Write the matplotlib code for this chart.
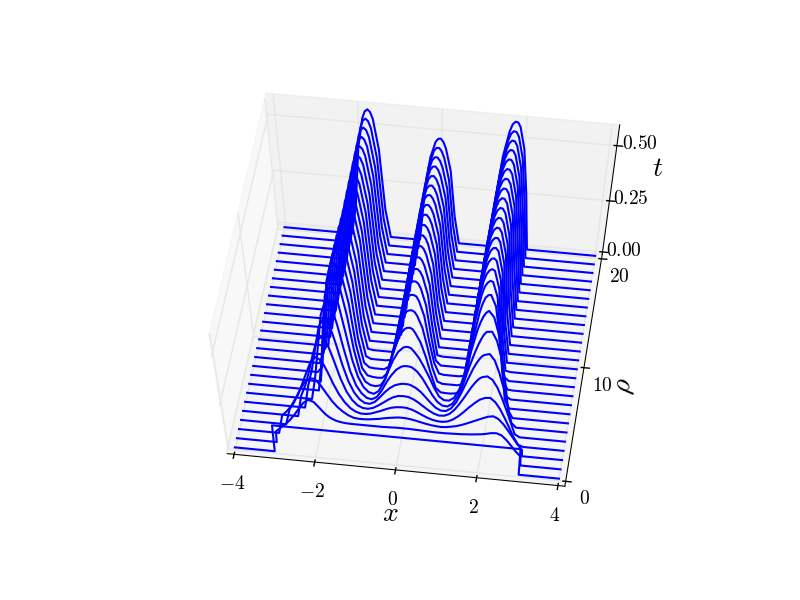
import numpy as np
import matplotlib
matplotlib.use("Agg")
import matplotlib.pyplot as plt
from mpl_toolkits.mplot3d import Axes3D

plt.style.use("classic")
plt.rcParams["mathtext.fontset"] = "cm"

x = [-3, -2.875, -2.75, -2.625, -2.5, -2.375, -2.25, -2.125, -2, -1.875, -1.75, -1.625, -1.5, -1.375,
     -1.25, -1.125, -1, -0.875, -0.75, -0.625, -0.5, -0.375, -0.25, -0.125, 0, 0.125, 0.25, 0.375,
     0.5, 0.625, 0.75, 0.875, 1, 1.125, 1.25, 1.375, 1.5, 1.625, 1.75, 1.875, 2, 2.125,
     2.25, 2.375, 2.5, 2.625, 2.75, 2.875, 3]

rho = [0, 0.8, 1.6, 2.4, 3.2, 4, 4.8, 5.6, 6.4, 7.2, 8, 8.8, 9.6, 10.4, 11.2, 12, 12.8, 13.6, 14.4,
       15.2, 16, 16.8, 17.6, 18.4, 19.2, 20]

# t values, in thousandths, one row per rho
t_milli = [
    [145, 145, 145, 145, 145, 145, 145, 145, 145, 145, 145, 145, 145, 145, 145, 145, 145, 145, 145, 145, 145, 145, 145, 145, 145, 145, 145, 145, 145, 145, 145, 145, 145, 145, 145, 145, 145, 145, 145, 145, 145, 145, 145, 145, 145, 145, 145, 145, 145],
    [60, 83, 104, 130, 162, 198, 232, 250, 241, 213, 184, 164, 152, 146, 143, 142, 142, 142, 142, 142, 142, 142, 143, 144, 145, 145, 145, 144, 143, 142, 141, 140, 140, 140, 141, 142, 143, 145, 147, 150, 153, 158, 165, 167, 158, 135, 105, 75, 50],
    [0, 100, 125, 157, 200, 247, 288, 312, 313, 284, 244, 205, 175, 153, 136, 125, 122, 122, 124, 128, 132, 138, 143, 147, 150, 150, 147, 142, 136, 130, 125, 122, 120, 122, 127, 133, 142, 153, 165, 177, 189, 200, 205, 193, 168, 135, 100, 65, 35],
    [0, 0, 85, 125, 172, 230, 292, 350, 375, 360, 308, 245, 192, 153, 125, 108, 100, 100, 105, 115, 125, 137, 147, 153, 155, 154, 148, 137, 124, 112, 103, 98, 97, 102, 115, 135, 160, 188, 213, 235, 247, 250, 230, 195, 150, 100, 50, 10, 0],
    [0, 0, 0, 0, 115, 172, 250, 340, 414, 430, 388, 309, 225, 160, 118, 92, 80, 78, 85, 100, 118, 137, 153, 163, 165, 163, 153, 137, 118, 100, 86, 78, 80, 92, 118, 155, 198, 243, 280, 303, 310, 295, 258, 205, 145, 80, 15, 0, 0],
    [0, 0, 0, 0, 0, 120, 208, 322, 432, 473, 442, 354, 250, 166, 109, 75, 57, 55, 68, 95, 125, 150, 168, 177, 180, 178, 166, 147, 120, 92, 68, 55, 55, 72, 108, 165, 230, 292, 340, 368, 375, 345, 285, 210, 120, 25, 0, 0, 0],
    [0, 0, 0, 0, 0, 0, 120, 280, 440, 510, 490, 400, 280, 170, 98, 58, 35, 30, 45, 82, 130, 170, 202, 220, 225, 221, 202, 170, 128, 84, 50, 32, 30, 48, 92, 165, 250, 330, 395, 435, 438, 395, 315, 200, 40, 0, 0, 0, 0],
    [0, 0, 0, 0, 0, 0, 0, 165, 395, 515, 527, 450, 320, 185, 95, 42, 17, 10, 28, 75, 140, 200, 245, 270, 275, 257, 225, 180, 130, 75, 30, 12, 12, 30, 80, 175, 285, 390, 460, 490, 462, 385, 255, 45, 0, 0, 0, 0, 0],
    [0, 0, 0, 0, 0, 0, 0, 190, 440, 540, 540, 480, 355, 185, 70, 22, 6, 3, 10, 48, 135, 215, 287, 318, 325, 300, 255, 185, 100, 25, 3, 1, 1, 5, 20, 115, 295, 430, 505, 520, 468, 325, 150, 15, 0, 0, 0, 0, 0],
    [0, 0, 0, 0, 0, 0, 30, 235, 465, 552, 548, 490, 368, 165, 45, 8, 2, 0, 2, 30, 125, 230, 315, 358, 365, 340, 282, 185, 80, 10, 0, 0, 0, 0, 8, 125, 340, 470, 530, 536, 465, 235, 55, 3, 0, 0, 0, 0, 0],
    [0, 0, 0, 0, 0, 0, 60, 240, 465, 553, 555, 500, 375, 150, 25, 3, 0, 0, 0, 18, 115, 238, 337, 387, 394, 366, 295, 168, 60, 5, 0, 0, 0, 0, 5, 145, 365, 490, 543, 543, 460, 195, 20, 0, 0, 0, 0, 0, 0],
    [0, 0, 0, 0, 0, 0, 40, 215, 455, 552, 560, 508, 380, 140, 12, 0, 0, 0, 0, 5, 85, 236, 347, 405, 414, 382, 303, 155, 25, 0, 0, 0, 0, 0, 0, 160, 380, 500, 552, 545, 455, 175, 5, 0, 0, 0, 0, 0, 0],
    [0, 0, 0, 0, 0, 0, 0, 190, 445, 550, 564, 515, 385, 130, 5, 0, 0, 0, 0, 0, 60, 234, 356, 418, 429, 394, 310, 142, 5, 0, 0, 0, 0, 0, 0, 175, 395, 508, 558, 546, 450, 160, 0, 0, 0, 0, 0, 0, 0],
    [0, 0, 0, 0, 0, 0, 0, 170, 430, 545, 567, 520, 390, 125, 0, 0, 0, 0, 0, 0, 30, 232, 362, 428, 440, 402, 315, 135, 0, 0, 0, 0, 0, 0, 0, 190, 405, 515, 561, 545, 447, 150, 0, 0, 0, 0, 0, 0, 0],
    [0, 0, 0, 0, 0, 0, 0, 150, 415, 538, 570, 528, 398, 128, 0, 0, 0, 0, 0, 0, 0, 232, 368, 436, 449, 410, 320, 128, 0, 0, 0, 0, 0, 0, 0, 203, 416, 523, 565, 544, 447, 160, 0, 0, 0, 0, 0, 0, 0],
    [0, 0, 0, 0, 0, 0, 0, 130, 404, 533, 571, 533, 404, 130, 0, 0, 0, 0, 0, 0, 0, 234, 373, 442, 456, 416, 324, 125, 0, 0, 0, 0, 0, 0, 0, 204, 417, 525, 567, 546, 450, 172, 0, 0, 0, 0, 0, 0, 0],
    [0, 0, 0, 0, 0, 0, 0, 130, 404, 534, 572, 534, 404, 130, 0, 0, 0, 0, 0, 0, 0, 236, 378, 447, 461, 421, 328, 124, 0, 0, 0, 0, 0, 0, 0, 204, 419, 527, 569, 548, 452, 185, 0, 0, 0, 0, 0, 0, 0],
    [0, 0, 0, 0, 0, 0, 0, 131, 405, 535, 573, 535, 405, 131, 0, 0, 0, 0, 0, 0, 0, 239, 382, 452, 466, 425, 332, 125, 0, 0, 0, 0, 0, 0, 0, 205, 420, 529, 571, 550, 455, 198, 0, 0, 0, 0, 0, 0, 0],
    [0, 0, 0, 0, 0, 0, 0, 131, 406, 536, 574, 536, 406, 131, 0, 0, 0, 0, 0, 0, 0, 240, 384, 454, 469, 428, 334, 126, 0, 0, 0, 0, 0, 0, 0, 206, 422, 531, 573, 552, 457, 210, 0, 0, 0, 0, 0, 0, 0],
    [0, 0, 0, 0, 0, 0, 0, 131, 407, 536, 575, 536, 407, 131, 0, 0, 0, 0, 0, 0, 0, 242, 387, 457, 472, 431, 336, 127, 0, 0, 0, 0, 0, 0, 0, 207, 423, 533, 575, 554, 459, 222, 0, 0, 0, 0, 0, 0, 0],
    [0, 0, 0, 0, 0, 0, 0, 131, 407, 537, 576, 537, 407, 131, 0, 0, 0, 0, 0, 0, 0, 243, 388, 459, 474, 433, 337, 127, 0, 0, 0, 0, 0, 0, 0, 207, 425, 535, 577, 556, 461, 232, 0, 0, 0, 0, 0, 0, 0],
    [0, 0, 0, 0, 0, 0, 0, 132, 408, 538, 577, 538, 408, 132, 0, 0, 0, 0, 0, 0, 0, 244, 390, 461, 476, 434, 339, 128, 0, 0, 0, 0, 0, 0, 0, 208, 426, 536, 579, 558, 463, 242, 0, 0, 0, 0, 0, 0, 0],
    [0, 0, 0, 0, 0, 0, 0, 132, 409, 539, 578, 539, 409, 132, 0, 0, 0, 0, 0, 0, 0, 245, 391, 463, 478, 436, 340, 128, 0, 0, 0, 0, 0, 0, 0, 208, 427, 537, 580, 559, 465, 250, 0, 0, 0, 0, 0, 0, 0],
    [0, 0, 0, 0, 0, 0, 0, 132, 409, 540, 579, 540, 409, 132, 0, 0, 0, 0, 0, 0, 0, 245, 392, 464, 479, 437, 341, 129, 0, 0, 0, 0, 0, 0, 0, 209, 428, 538, 581, 560, 466, 258, 0, 0, 0, 0, 0, 0, 0],
    [0, 0, 0, 0, 0, 0, 0, 132, 409, 540, 579, 540, 409, 132, 0, 0, 0, 0, 0, 0, 0, 246, 394, 466, 481, 439, 342, 130, 0, 0, 0, 0, 0, 0, 0, 209, 428, 539, 582, 561, 468, 265, 0, 0, 0, 0, 0, 0, 0],
    [0, 0, 0, 0, 0, 0, 0, 132, 410, 541, 580, 541, 410, 132, 0, 0, 0, 0, 0, 0, 0, 247, 395, 467, 482, 440, 343, 130, 0, 0, 0, 0, 0, 0, 0, 210, 430, 541, 584, 563, 470, 270, 0, 0, 0, 0, 0, 0, 0],
]

# extra readings around the three crests
x_crest = [-1.8125, -1.6875, -0.0625, 0.0625, 1.6875, 1.8125]
t_crest = [
    [145, 145, 145, 145, 145, 145],
    [198, 173, 145, 145, 146, 148],
    [264, 225, 149, 150, 159, 171],
    [335, 277, 154, 155, 200, 224],
    [411, 350, 164, 164, 262, 294],
    [461, 400, 180, 180, 318, 358],
    [507, 447, 224, 224, 365, 420],
    [530, 500, 275, 270, 430, 480],
    [545, 517, 324, 318, 475, 518],
    [555, 525, 364, 358, 510, 540],
    [560, 535, 394, 388, 525, 550],
    [563, 542, 414, 405, 535, 556],
    [565, 548, 428, 418, 542, 560],
    [565, 552, 439, 428, 547, 562],
    [562, 558, 448, 437, 553, 563],
    [561, 561, 455, 443, 555, 565],
    [562, 562, 460, 448, 557, 567],
    [563, 563, 465, 452, 559, 569],
    [564, 564, 468, 455, 561, 571],
    [565, 565, 471, 458, 563, 573],
    [566, 566, 473, 460, 565, 575],
    [567, 567, 475, 462, 567, 577],
    [568, 568, 477, 464, 568, 578],
    [569, 569, 478, 465, 569, 579],
    [569, 569, 480, 467, 570, 580],
    [570, 570, 481, 468, 572, 582],
]

x_ticks = [-4, -2, 0, 2, 4]
x_labels = ["$-4$", "$-2$", "$0$", "$2$", "$4$"]
rho_ticks = [0, 10, 20]
rho_labels = ["$0$", "$10$", "$20$"]
t_ticks = [0, 0.25, 0.5]
t_labels = ["$0.00$", "$0.25$", "$0.50$"]

fig = plt.figure(figsize=(8, 6), facecolor="white")
ax = fig.add_subplot(111, projection="3d")
# old style 3d axes, stretched to fill the subplot instead of square
ax.apply_aspect = lambda position=None: None
ax.set_position([0.125, 0.1, 0.775, 0.8])
ax.set_box_aspect((1, 1, 1), zoom=1.04 / 1.1)
ax.view_init(elev=63, azim=-82.3)

x_all = np.array([-4, -3.01] + x + x_crest + [3.01, 4])
order = np.argsort(x_all)
for r, row, crest in zip(rho, t_milli, t_crest):
    t = np.array([0, 0] + row + crest + [0, 0]) / 1000
    ax.plot(x_all[order], [r] * len(x_all), t[order], color="b", lw=1.5)

ax.set_xlim(-4.17, 4.17)
ax.set_ylim(-0.42, 20.42)
ax.set_zlim(-0.012, 0.59)
ax.set_xticks(x_ticks)
ax.set_xticklabels(x_labels, fontsize=14)
ax.set_yticks(rho_ticks)
ax.set_yticklabels(rho_labels, fontsize=14)
ax.set_zticks(t_ticks)
ax.set_zticklabels(t_labels, fontsize=14)
ax.set_xlabel("$x$", fontsize=20)
ax.set_ylabel(r"$\rho$", fontsize=20)
ax.set_zlabel("$t$", fontsize=20)

fig.savefig("out.png", dpi=100, facecolor="white")
